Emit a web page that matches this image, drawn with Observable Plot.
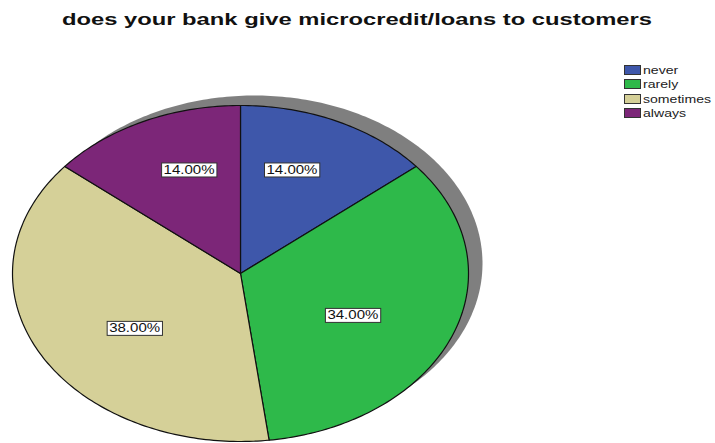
<!DOCTYPE html>
<html>
<head>
<meta charset="utf-8">
<script src="https://cdn.jsdelivr.net/npm/d3@7"></script>
<script src="https://cdn.jsdelivr.net/npm/@observablehq/plot@0.6"></script>
<style>
  html, body { margin: 0; padding: 0; background: #fff; }
  #wrap { position: relative; width: 715px; height: 443px; overflow: hidden; font-family: "Liberation Sans", Arial, sans-serif; }
  #title { position: absolute; left: 62px; top: 10px; font-weight: bold; font-size: 17px; white-space: nowrap; transform-origin: left top; color: #111; }
  #legend { position: absolute; left: 624px; top: 63px; font-size: 11px; }
  .row { height: 14.3px; display: flex; align-items: center; white-space: nowrap; }
  .sw { width: 15px; height: 8px; border: 1px solid #333; margin-right: 2px; box-sizing: content-box; }
  .lab { display: inline-block; transform: scaleX(1.28); transform-origin: left center; color: #222; }
  #chart { position: absolute; left: 0; top: 0; }
</style>
</head>
<body>
<div id="wrap">
  <div id="chart"></div>
  <div id="title"></div>
  <div id="legend"></div>
</div>
<script>
const title = "does your bank give microcredit/loans to customers";
const categories = ["never", "rarely", "sometimes", "always"];
const percents = [14, 34, 38, 14];
const colors = ["#3e57aa", "#2eb94a", "#d5d098", "#7c2678"];
const labelTexts = ["14.00%", "34.00%", "38.00%", "14.00%"];

// Build slices from the values
const arcs = d3.pie().sort(null).value(d => d)(percents);
const slices = [];
arcs.forEach((a, i) => {
  const n = Math.max(2, Math.ceil((a.endAngle - a.startAngle) / (Math.PI / 180)));
  slices.push({cat: categories[i], x: 0, y: 0});
  for (let k = 0; k <= n; k++) {
    const t = a.startAngle + (a.endAngle - a.startAngle) * k / n;
    slices.push({cat: categories[i], x: Math.sin(t), y: Math.cos(t)});
  }
  slices.push({cat: categories[i], x: 0, y: 0});
});
const ring = d3.range(0, 361).map(d => ({x: Math.sin(d * Math.PI / 180), y: Math.cos(d * Math.PI / 180)}));
const kx = 0.53, ky = 0.68;
const labels = arcs.map((a, i) => {
  const m = (a.startAngle + a.endAngle) / 2;
  return {x: kx * Math.sin(m), y: ky * Math.cos(m), text: labelTexts[i]};
});

const marks = [
  Plot.line(ring, {x: "x", y: "y", fill: "#7f7f7f", stroke: "none", dx: 14, dy: -10}),
  ...categories.map((c, i) => Plot.line(slices.filter(d => d.cat === c), {x: "x", y: "y", fill: colors[i], stroke: "#111", strokeWidth: 1.2, strokeLinejoin: "round"})),
  Plot.text(labels, {x: "x", y: "y", text: "text", fontSize: 12, fontFamily: "Liberation Sans, Arial, sans-serif", fill: "#111"})
];

const chart = Plot.plot({
  width: 715, height: 443, margin: 0,
  x: {domain: [-1, 1], range: [12, 468], axis: null},
  y: {domain: [-1, 1], range: [441, 105], axis: null},
  style: {background: "transparent", overflow: "visible"},
  marks
});
document.getElementById("chart").append(chart);

// label boxes
const ns = "http://www.w3.org/2000/svg";
chart.querySelectorAll('g[aria-label="text"] text').forEach(t => {
  const w = t.getComputedTextLength();
  t.setAttribute("textLength", (w * 1.25).toFixed(1));
  t.setAttribute("lengthAdjust", "spacingAndGlyphs");
  const b = t.getBBox();
  const r = document.createElementNS(ns, "rect");
  r.setAttribute("x", b.x - 2);
  r.setAttribute("y", b.y);
  r.setAttribute("width", b.width + 4);
  r.setAttribute("height", b.height);
  r.setAttribute("fill", "#fff");
  r.setAttribute("stroke", "#333");
  r.setAttribute("stroke-width", "1");
  if (t.getAttribute("transform")) r.setAttribute("transform", t.getAttribute("transform"));
  t.parentNode.insertBefore(r, t);
});

// title
const tEl = document.getElementById("title");
tEl.textContent = title;
const tw = tEl.getBoundingClientRect().width;
tEl.style.transform = `scaleX(${590 / tw})`;

// legend
const leg = document.getElementById("legend");
categories.forEach((c, i) => {
  const row = document.createElement("div");
  row.className = "row";
  const sw = document.createElement("span");
  sw.className = "sw";
  sw.style.background = colors[i];
  const lab = document.createElement("span");
  lab.className = "lab";
  lab.textContent = c;
  row.append(sw, lab);
  leg.append(row);
});
</script>
</body>
</html>
